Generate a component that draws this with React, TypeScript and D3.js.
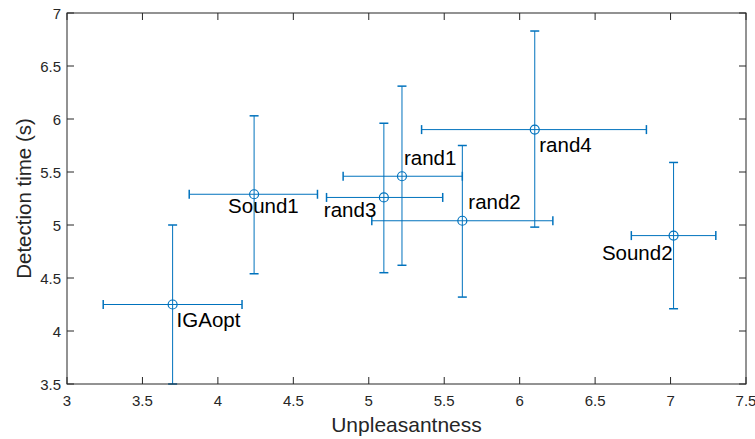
import React from "react";
import * as d3 from "d3";

// conditions and their means / spread
const names = ["IGAopt", "Sound1", "rand3", "rand1", "rand2", "rand4", "Sound2"];
const unpleasantness = [3.70, 4.24, 5.10, 5.22, 5.62, 6.10, 7.02];
const unpLow = [3.24, 3.81, 4.72, 4.83, 5.02, 5.35, 6.74];
const unpHigh = [4.16, 4.66, 5.49, 5.62, 6.22, 6.84, 7.30];
const detection = [4.25, 5.29, 5.26, 5.46, 5.04, 5.90, 4.90];
const detLow = [3.50, 4.54, 4.55, 4.62, 4.32, 4.98, 4.21];
const detHigh = [5.00, 6.03, 5.96, 6.31, 5.75, 6.83, 5.59];

const xTicks = [3, 3.5, 4, 4.5, 5, 5.5, 6, 6.5, 7, 7.5];
const yTicks = [3.5, 4, 4.5, 5, 5.5, 6, 6.5, 7];

// label offsets relative to the marker (dx, dy, anchor)
const labelPos: Record<string, [number, number, string]> = {
  IGAopt: [4, 22, "start"],
  Sound1: [-26, 19, "start"],
  rand3: [-60, 20, "start"],
  rand1: [2, -11, "start"],
  rand2: [6, -12, "start"],
  rand4: [4.5, 22, "start"],
  Sound2: [-1, 24, "end"],
};

const W = 755;
const H = 439;
const margin = { top: 13, right: 9, bottom: 55, left: 67 };
const blue = "#0072BD";
const axisColor = "#262626";

export default function App() {
  const x = d3.scaleLinear().domain([3, 7.5]).range([margin.left, W - margin.right]);
  const y = d3.scaleLinear().domain([3.5, 7]).range([H - margin.bottom, margin.top]);
  const [x0, x1] = x.range();
  const [y0, y1] = y.range();
  const tick = 7;
  const cap = 4.5;
  const font = "Helvetica, Arial, 'Liberation Sans', sans-serif";

  return (
    <svg
      width={W}
      height={H}
      style={{ position: "absolute", left: 0, top: 0, background: "#fff" }}
      fontFamily={font}
    >
      {/* error bars */}
      {names.map((n, i) => {
        const cx = x(unpleasantness[i]);
        const cy = y(detection[i]);
        const yl = y(detLow[i]);
        const yh = y(detHigh[i]);
        const xl = x(unpLow[i]);
        const xh = x(unpHigh[i]);
        return (
          <g key={n} stroke={blue} strokeWidth={1} fill="none">
            <line x1={cx} x2={cx} y1={yl} y2={yh} />
            <line x1={cx - cap} x2={cx + cap} y1={yl} y2={yl} strokeWidth={1.5} />
            <line x1={cx - cap} x2={cx + cap} y1={yh} y2={yh} strokeWidth={1.5} />
            <line x1={xl} x2={xh} y1={cy} y2={cy} />
            <line x1={xl} x2={xl} y1={cy - cap} y2={cy + cap} strokeWidth={1.5} />
            <line x1={xh} x2={xh} y1={cy - cap} y2={cy + cap} strokeWidth={1.5} />
            <circle cx={cx} cy={cy} r={4.5} strokeWidth={1.2} />
          </g>
        );
      })}

      {/* point labels */}
      {names.map((n, i) => {
        const [dx, dy, anchor] = labelPos[n];
        return (
          <text
            key={n}
            x={x(unpleasantness[i]) + dx}
            y={y(detection[i]) + dy}
            textAnchor={anchor}
            fontSize={20.5}
            fill="#000"
          >
            {n}
          </text>
        );
      })}

      {/* axes box */}
      <rect x={x0} y={y1} width={x1 - x0} height={y0 - y1} fill="none" stroke={axisColor} strokeWidth={1} />

      {xTicks.map((t) => (
        <g key={"x" + t}>
          <line x1={x(t)} x2={x(t)} y1={y0} y2={y0 - tick} stroke={axisColor} />
          <line x1={x(t)} x2={x(t)} y1={y1} y2={y1 + tick} stroke={axisColor} />
          <text x={x(t)} y={y0 + 22} textAnchor="middle" fontSize={15} fill={axisColor}>
            {t}
          </text>
        </g>
      ))}
      {yTicks.map((t) => (
        <g key={"y" + t}>
          <line x1={x0} x2={x0 + tick} y1={y(t)} y2={y(t)} stroke={axisColor} />
          <line x1={x1} x2={x1 - tick} y1={y(t)} y2={y(t)} stroke={axisColor} />
          <text x={x0 - 6} y={y(t) + 5.5} textAnchor="end" fontSize={15} fill={axisColor}>
            {t}
          </text>
        </g>
      ))}

      <text x={(x0 + x1) / 2} y={H - 7} textAnchor="middle" fontSize={21} fill={axisColor}>
        Unpleasantness
      </text>
      <text
        transform={`translate(31, ${(y0 + y1) / 2}) rotate(-90)`}
        textAnchor="middle"
        fontSize={20.5}
        fill={axisColor}
      >
        Detection time (s)
      </text>
    </svg>
  );
}
